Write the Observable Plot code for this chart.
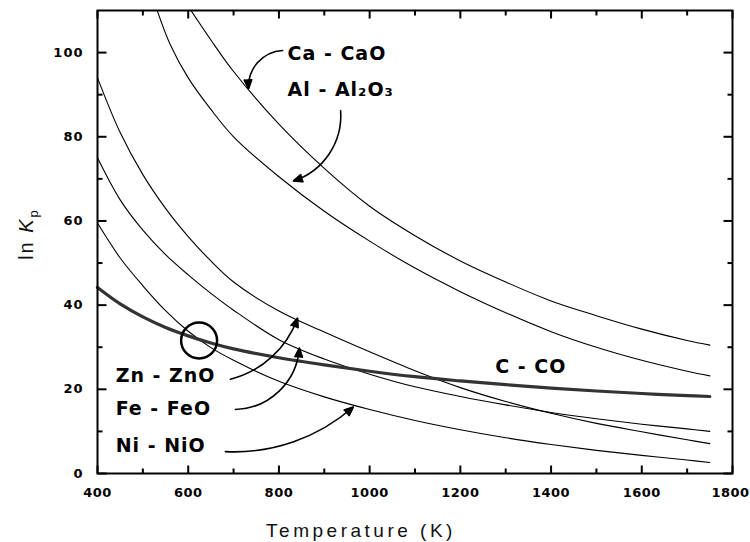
<!DOCTYPE html>
<html><head><meta charset="utf-8">
<script src="https://cdn.jsdelivr.net/npm/d3@7"></script>
<script src="https://cdn.jsdelivr.net/npm/@observablehq/plot@0.6"></script>
<style>
html,body{margin:0;padding:0;background:#fff;}
#chart svg{display:block;}
g[aria-label="x-axis tick label"] text{letter-spacing:0.5px;}
g[aria-label="y-axis tick label"] text{letter-spacing:1px;}
</style></head><body><div id="chart"></div>
<script>
// ---- data (temperature in K, ln Kp) ----
const caT = [600,650,700,800,900,1000,1100,1200,1300,1400,1500,1600,1700,1750];
const caV = [111,103,95.5,83,72.5,63.5,56.5,50.5,45.5,41,37.5,34.3,31.6,30.5];
const alT = [530,560,600,650,700,800,900,1000,1100,1200,1300,1400,1500,1600,1700,1750];
const alV = [110.5,102,94,86.5,80,70.5,62.3,55.2,48.8,43.2,38.2,33.7,30,26.9,24.3,23.2];
const T = [400,450,500,550,600,650,700,800,900,1000,1100,1200,1300,1400,1500,1600,1700,1750];
const znV = [94,81,71,63,56.3,50.5,45.5,38.6,33.6,28.9,24.4,20.4,17.1,14.3,11.9,9.9,8.0,7.1];
const feV = [75,65,57.8,52,47.2,42.8,38.8,31.8,27.2,23.6,20.6,18.3,16.3,14.5,13.0,11.7,10.6,10.0];
const niV = [59.5,51.2,44.6,38.7,33.8,29.9,26.9,21.9,18.2,15.2,12.6,10.4,8.5,6.9,5.5,4.3,3.2,2.6];
const coV = [44.2,40.3,37.2,34.7,32.7,31.0,29.6,27.5,25.8,24.3,23.0,22.0,21.1,20.3,19.6,19.0,18.5,18.3];
const xTickLabels = [400,600,800,1000,1200,1400,1600,1800];
const xMinorTicks = [500,700,900,1100,1300,1500,1700];
const yTickLabels = [0,20,40,60,80,100];
const yMinorTicks = [10,30,50,70,90];

const rows = [];
const add = (name, ts, vs) => ts.forEach((t, i) => rows.push({name, T: t, v: vs[i]}));
add("Ca", caT, caV); add("Al", alT, alV);
add("Zn", T, znV); add("Fe", T, feV); add("Ni", T, niV);
const coRows = T.map((t, i) => ({T: t, v: coV[i]}));

// annotations (data coordinates)
const labels = [
  {text: "Ca - CaO", x: 819, y: 99.8},
  {text: "Al - Al\u2082O\u2083", x: 819, y: 91.2},
  {text: "Zn - ZnO", x: 440, y: 23.2},
  {text: "Fe - FeO", x: 440, y: 15.4},
  {text: "Ni - NiO", x: 440, y: 6.5},
  {text: "C - CO", x: 1277, y: 25.4}
];
const arrows = [
  {x1: 808, y1: 100.5, x2: 733, y2: 91.4, bend: -45},
  {x1: 936, y1: 86.2, x2: 832, y2: 69.5, bend: 38},
  {x1: 693, y1: 22.4, x2: 841, y2: 36.9, bend: -28},
  {x1: 704, y1: 15.2, x2: 845, y2: 29.8, bend: -42},
  {x1: 682, y1: 5.2, x2: 964, y2: 15.8, bend: -22}
];
const circle = [{x: 624, y: 31.6}];

const W = 750, H = 542, mL = 97, mR = 18, mT = 10, mB = 69;
const xMin = 400, xMax = 1800, yMin = 0, yMax = 110;
const iW = W - mL - mR, iH = H - mT - mB;
const kx = (xMax - xMin) / iW, ky = (yMax - yMin) / iH; // data units per pixel

// inward tick segments as links in data space (lengths given in pixels)
const tickSegs = [];
const pushX = (vals, len) => vals.forEach(v => {
  tickSegs.push({x1: v, x2: v, y1: yMin, y2: yMin + len * ky});
  tickSegs.push({x1: v, x2: v, y1: yMax, y2: yMax - len * ky});
});
const pushY = (vals, len) => vals.forEach(v => {
  tickSegs.push({x1: xMin, x2: xMin + len * kx, y1: v, y2: v});
  tickSegs.push({x1: xMax, x2: xMax - len * kx, y1: v, y2: v});
});
pushX(xTickLabels, 8); pushX(xMinorTicks, 5);
pushY(yTickLabels, 9); pushY(yMinorTicks, 5);

const chart = Plot.plot({
  width: W, height: H,
  marginLeft: mL, marginRight: mR, marginTop: mT, marginBottom: mB,
  x: {domain: [xMin, xMax]},
  y: {domain: [yMin, yMax]},
  style: {fontFamily: "DejaVu Sans", background: "#fff", color: "#000"},
  marks: [
    Plot.line(rows, {x: "T", y: "v", z: "name", stroke: "#000", strokeWidth: 1.1, curve: "catmull-rom", clip: true}),
    Plot.line(coRows, {x: "T", y: "v", stroke: "#333", strokeWidth: 3.2, curve: "catmull-rom"}),
    Plot.frame({stroke: "#000", strokeWidth: 2}),
    Plot.link(tickSegs, {x1: "x1", y1: "y1", x2: "x2", y2: "y2", stroke: "#000", strokeWidth: 2}),
    Plot.axisX({ticks: xTickLabels, tickSize: 0, tickPadding: 14, tickFormat: d => String(d), label: null, fontSize: 13, fontWeight: "bold"}),
    Plot.axisY({ticks: yTickLabels, tickSize: 0, tickPadding: 14, tickFormat: d => String(d), label: null, fontSize: 13, fontWeight: "bold"}),
    Plot.dot(circle, {x: "x", y: "y", r: 18, stroke: "#000", strokeWidth: 2.5, fill: "none"}),
    ...arrows.map(a => Plot.arrow([a], {x1: "x1", y1: "y1", x2: "x2", y2: "y2", bend: a.bend, stroke: "#000", strokeWidth: 1.6, headLength: 9, headAngle: 45})),
    Plot.text(labels, {x: "x", y: "y", text: "text", textAnchor: "start", fontSize: 19, fontWeight: "bold", fontFamily: "DejaVu Sans"})
  ]
});
document.getElementById("chart").appendChild(chart);

const svg = d3.select(chart);
// keep the last x tick label inside the page
svg.selectAll('g[aria-label="x-axis tick label"] text')
  .filter(function () { return this.textContent === "1800"; })
  .attr("dx", -2);

svg.selectAll('g[aria-label="text"] text').style("letter-spacing", "1px");
// fill the arrow heads (split head sub-path off the arrow path)
svg.selectAll('g[aria-label="arrow"] path').each(function () {
  const d = this.getAttribute("d");
  const k = d.indexOf("M", 1);
  if (k > 0) {
    d3.select(this.parentNode).append("path")
      .attr("d", d.slice(k) + "Z")
      .attr("fill", "#000").attr("stroke", "#000").attr("stroke-width", 1.2)
      .attr("stroke-linejoin", "miter");
  }
});
// x-axis title
svg.append("text")
  .attr("x", 361).attr("y", 537)
  .attr("text-anchor", "middle")
  .attr("font-family", "Liberation Sans, Arial, sans-serif")
  .attr("font-size", 19).attr("letter-spacing", "3.5px").attr("fill", "#111")
  .text("Temperature (K)");
// y-axis title: ln K_p
const yl = svg.append("text")
  .attr("transform", "translate(33,234) rotate(-90)")
  .attr("text-anchor", "middle")
  .attr("font-family", "Liberation Sans, Arial, sans-serif")
  .attr("font-size", 20).attr("letter-spacing", "2px").attr("fill", "#111");
yl.append("tspan").text("ln ");
yl.append("tspan").attr("font-style", "italic").text("K");
yl.append("tspan").attr("font-size", 13).attr("dy", 5).text("p");
</script></body></html>
